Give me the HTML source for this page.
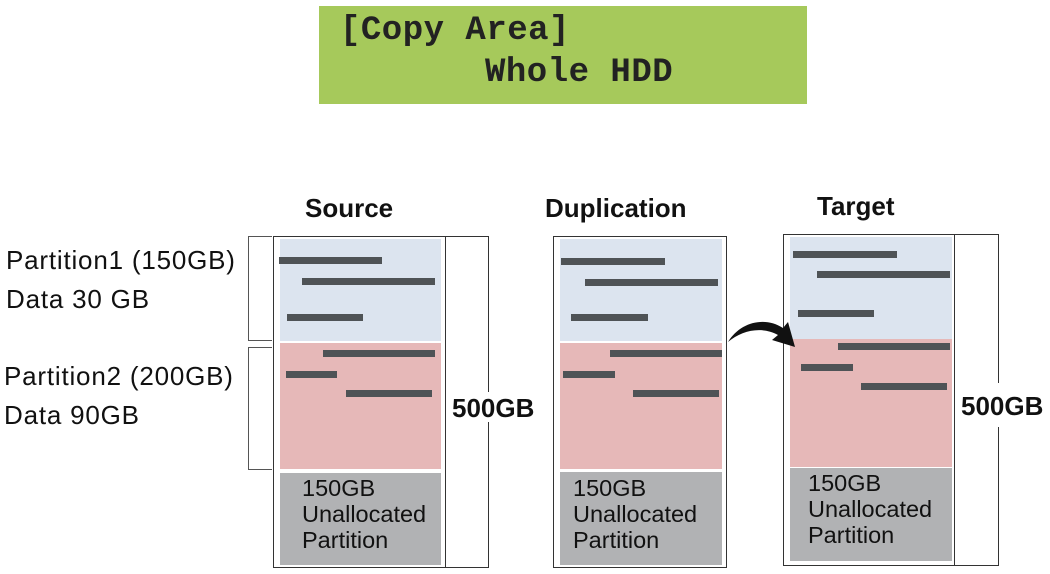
<!DOCTYPE html>
<html><head><meta charset="utf-8"><style>
body{margin:0;width:1050px;height:574px;background:#fff;position:relative;overflow:hidden;font-family:"Liberation Sans",sans-serif}
.a{position:absolute}
.lcd{left:319px;top:6px;width:488px;height:98px;background:#a6c95b}
.lt{font-family:"Liberation Mono",monospace;font-size:34px;color:#222;letter-spacing:0.5px;white-space:pre;line-height:34px;font-weight:bold}
.bx{border:1.3px solid #333;box-sizing:border-box}
.blue{background:#dce4ef}.pink{background:#e6b8b8}.gray{background:#b1b2b4}
.bar{height:7px;background:#4f5356}
.h{font-weight:bold;font-size:26px;color:#111;white-space:nowrap}
.t{font-size:26px;color:#111;line-height:28px;letter-spacing:0.8px;white-space:nowrap}
.g{font-size:23.5px;color:#111;line-height:26px}
</style></head><body>
<div class="a lcd"></div>
<div class="a lt" style="left:340px;top:14px">[Copy Area]</div>
<div class="a lt" style="left:485px;top:56px">Whole HDD</div>

<div class="a h" style="left:305px;top:193px">Source</div>
<div class="a h" style="left:545px;top:193px">Duplication</div>
<div class="a h" style="left:817px;top:191px">Target</div>

<div class="a t" style="left:6px;top:246px">Partition1 (150GB)</div>
<div class="a t" style="left:6px;top:285px">Data 30 GB</div>
<div class="a t" style="left:4px;top:362px">Partition2 (200GB)</div>
<div class="a t" style="left:4px;top:401px">Data 90GB</div>
<div class="a" style="left:248px;top:236px;width:24px;height:105px;border:1.3px solid #555;border-right:none;box-sizing:border-box"></div>
<div class="a" style="left:248px;top:347px;width:24px;height:123px;border:1.3px solid #555;border-right:none;box-sizing:border-box"></div>

<!-- Source -->
<div class="a bx" style="left:273px;top:236px;width:216px;height:332px"></div>
<div class="a" style="left:445px;top:236px;width:1.3px;height:332px;background:#333"></div>
<div class="a blue" style="left:280px;top:239px;width:161px;height:102px"></div>
<div class="a pink" style="left:280px;top:343px;width:161px;height:126px"></div>
<div class="a gray" style="left:280px;top:473px;width:161px;height:92px"></div>
<div class="a" style="left:449px;top:392px;width:42px;height:30px;background:#fff"></div>
<div class="a h" style="left:452px;top:393px">500GB</div>
<div class="a bar" style="left:279px;top:257px;width:103px"></div>
<div class="a bar" style="left:302px;top:278px;width:133px"></div>
<div class="a bar" style="left:287px;top:314px;width:76px"></div>
<div class="a bar" style="left:323px;top:350px;width:112px"></div>
<div class="a bar" style="left:286px;top:371px;width:51px"></div>
<div class="a bar" style="left:346px;top:390px;width:86px"></div>
<div class="a g" style="left:302px;top:475px">150GB<br>Unallocated<br>Partition</div>

<!-- Duplication -->
<div class="a bx" style="left:553px;top:236px;width:174px;height:332px"></div>
<div class="a blue" style="left:560px;top:239px;width:162px;height:102px"></div>
<div class="a pink" style="left:560px;top:343px;width:162px;height:126px"></div>
<div class="a gray" style="left:560px;top:472px;width:162px;height:93px"></div>
<div class="a bar" style="left:561px;top:258px;width:104px"></div>
<div class="a bar" style="left:585px;top:279px;width:133px"></div>
<div class="a bar" style="left:571px;top:314px;width:77px"></div>
<div class="a bar" style="left:610px;top:350px;width:112px"></div>
<div class="a bar" style="left:563px;top:371px;width:52px"></div>
<div class="a bar" style="left:633px;top:390px;width:86px"></div>
<div class="a g" style="left:573px;top:475px">150GB<br>Unallocated<br>Partition</div>

<!-- Target -->
<div class="a bx" style="left:783px;top:234px;width:216px;height:332px"></div>
<div class="a" style="left:954px;top:234px;width:1.3px;height:332px;background:#333"></div>
<div class="a blue" style="left:790px;top:237px;width:162px;height:102px"></div>
<div class="a pink" style="left:790px;top:339px;width:162px;height:128px"></div>
<div class="a gray" style="left:790px;top:468px;width:162px;height:93px"></div>
<div class="a" style="left:958px;top:383px;width:46px;height:44px;background:#fff"></div>
<div class="a h" style="left:961px;top:391px">500GB</div>
<div class="a bar" style="left:793px;top:251px;width:104px"></div>
<div class="a bar" style="left:817px;top:271px;width:133px"></div>
<div class="a bar" style="left:798px;top:310px;width:76px"></div>
<div class="a bar" style="left:838px;top:343px;width:112px"></div>
<div class="a bar" style="left:801px;top:364px;width:52px"></div>
<div class="a bar" style="left:861px;top:383px;width:86px"></div>
<div class="a g" style="left:808px;top:470px">150GB<br>Unallocated<br>Partition</div>

<svg class="a" style="left:0;top:0" width="1050" height="574">
<path d="M728 342 C740 322 765 316 783 328 L788 322 L795 347 L772 340 L778 335 C762 326 742 330 728 342 Z" fill="#111"/>
</svg>
</body></html>
